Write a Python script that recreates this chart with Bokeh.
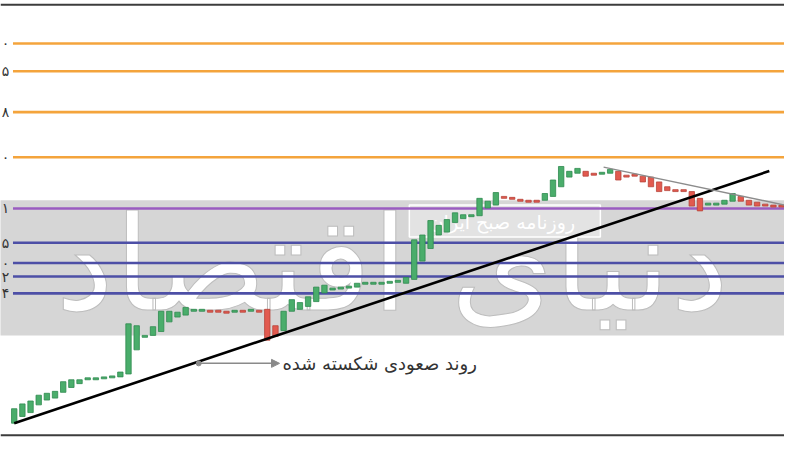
import numpy as np
from bokeh.plotting import figure
from bokeh.models import Range1d, ColumnDataSource, Arrow, NormalHead, Span
from bokeh.core.properties import value
from bokeh.embed import file_html
from bokeh.resources import INLINE

# ---- data (price units) ----
opens = [20, 27, 31, 39, 44, 46, 52, 57, 61, 65,
         65, 66, 67, 68, 71, 96, 109, 111, 115, 125,
         130, 132, 136, 136, 137, 137, 136, 135, 137, 136,
         137, 138, 121, 116, 136, 138, 141, 146, 155, 158,
         159, 160, 161, 164, 164, 164, 165, 166, 165, 169,
         188, 201, 215, 218, 228, 232, 234, 235, 243, 246,
         255, 254, 252, 251, 251, 251, 255, 265, 275, 279,
         281, 279, 278, 279, 281, 277, 278, 276, 275, 270,
         265, 262, 262, 260, 253, 246, 246, 247, 250, 255,
         251, 249, 247, 246, 246]
closes = [35, 40, 43, 49, 51, 53, 63, 65, 65, 67,
          67, 68, 69, 73, 123, 121, 111, 120, 136, 136,
          135, 140, 138, 138, 135, 135, 134, 137, 135, 138,
          135, 106, 110, 136, 148, 145, 151, 161, 163, 160,
          161, 162, 165, 166, 166, 166, 167, 168, 171, 210,
          215, 230, 225, 231, 238, 236, 236, 253, 250, 259,
          253, 252, 250, 249, 249, 258, 272, 286, 281, 284,
          276, 277, 280, 283, 272, 275, 276, 270, 265, 260,
          261, 260, 260, 245, 240, 248, 248, 251, 258, 250,
          246, 245, 245, 244, 244]

levels = [413.5, 384.7, 342.3, 295.5, 242.5, 207, 186, 172, 154.5]
level_colors = ["#f4a43c", "#f4a43c", "#f4a43c", "#f4a43c", "#9a5cc0",
                "#4d4fa6", "#4d4fa6", "#4d4fa6", "#4d4fa6"]
level_labels = ["۰", "۵", "۸", "۰", "۱", "۵", "۰", "۲", "۴"]

trend_x = [0, 92.5]
trend_y = [20, 281.3]
down_x = [72.2, 94.4]
down_y = [285.3, 246]

note_text = "روند صعودی شکسته شده"
note_x0, note_x1, note_y = 22.6, 32.5, 82
watermark = "دنیای اقتصاد"
stamp = "روزنامه صبح ایران"

# ---- figure ----
SP = 8.33
p = figure(width=784, height=442, output_backend="svg", toolbar_location=None,
           x_range=Range1d(-14 / SP, (800 - 14) / SP), y_range=Range1d(0, 458),
           min_border=0, outline_line_color=None, background_fill_color="white")
p.axis.visible = False
p.grid.visible = False

# watermark band
p.quad(left=[-5], right=[100], bottom=[111], top=[251], fill_color="#d6d6d6", line_color=None)
p.text(x=[46.3], y=[185], text=[watermark], text_font=value("DejaVu Sans"),
       text_font_size="132px", text_color="white",
       text_outline_color="#bdbdbd", text_align="center", text_baseline="middle")
p.quad(left=[48.4], right=[71.8], bottom=[213], top=[246], fill_color="#e3e3e3",
       line_color="white", line_width=1.5)
p.text(x=[59.8], y=[229], text=[stamp], text_font=value("DejaVu Sans"),
       text_font_size="19px", text_color="white", text_align="center", text_baseline="middle")

# level lines
x_left = -0.15
p.segment(x0=[x_left] * len(levels), x1=[100] * len(levels), y0=levels, y1=levels,
          line_color=level_colors, line_width=2.6)
p.text(x=[-0.62] * len(levels), y=levels, text=level_labels, text_font=value("DejaVu Sans"),
       text_font_size="14px", text_color="#333333", text_align="right", text_baseline="middle")

# frame lines
p.add_layout(Span(location=453.5, dimension="width", line_color="#3c3c3c", line_width=2))
p.add_layout(Span(location=7.5, dimension="width", line_color="#3c3c3c", line_width=2))

# candles
idx = np.arange(len(opens))
o = np.array(opens, dtype=float)
c = np.array(closes, dtype=float)
top = np.maximum(o, c)
bot = np.minimum(o, c)
up = c >= o
src = ColumnDataSource(dict(
    x=idx, top=top, bottom=bot,
    fill=np.where(up, "#4aad6b", "#e25a4f"),
    line=np.where(up, "#2f8a4f", "#b8443a"),
))
p.vbar(x="x", width=0.66, top="top", bottom="bottom", fill_color="fill",
       line_color="line", line_width=0.8, source=src)

# trend lines
p.line(trend_x, trend_y, line_color="black", line_width=2.6)
p.line(down_x, down_y, line_color="#8c8c8c", line_width=1.4)

# annotation
p.add_layout(Arrow(x_start=note_x0, y_start=note_y, x_end=note_x1, y_end=note_y,
                   line_color="#8a8a8a", line_width=1.5,
                   end=NormalHead(size=8, fill_color="#8a8a8a", line_color="#8a8a8a")))
p.scatter([note_x0], [note_y], size=5, color="#8a8a8a")
p.text(x=[note_x1 + 0.35], y=[note_y], text=[note_text], text_font=value("DejaVu Sans"),
       text_font_size="18px", text_color="#333333", text_align="left", text_baseline="middle")

open("out.html", "w").write(file_html(p, INLINE))
